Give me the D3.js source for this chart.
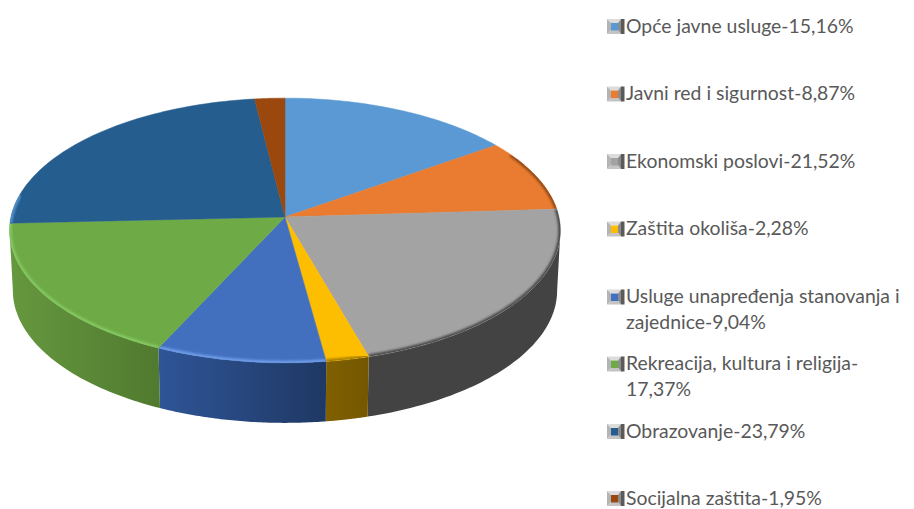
<!DOCTYPE html>
<html>
<head>
<meta charset="utf-8">
<script src="https://cdn.jsdelivr.net/npm/d3@7"></script>
<style>
  html, body { margin: 0; padding: 0; background: #fff; }
  svg { display: block; }
  text { font-family: Lato, sans-serif; font-size: 19.4px; fill: #595959; }
</style>
</head>
<body>
<div id="chart"></div>
<script>
const width = 914, height = 509;

// chart data
const categories = ["Opće javne usluge", "Javni red i sigurnost", "Ekonomski poslovi", "Zaštita okoliša",
  "Usluge unapređenja stanovanja i zajednice", "Rekreacija, kultura i religija", "Obrazovanje", "Socijalna zaštita"];
const values = [15.16, 8.87, 21.52, 2.28, 9.04, 17.37, 23.79, 1.95];
const colors = ["#5b99d4", "#e97c30", "#a3a3a3", "#fdbd00", "#4270bf", "#6eaa46", "#255d8f", "#9a480e"];
// lighter / darker side of the wall, left to right
const wallLeft = ["#3f6d96", "#a65822", "#434343", "#806000", "#2f5597", "#66983f", "#1f4465", "#6f320a"];
const wallRight = ["#3f6d96", "#a65822", "#434343", "#745700", "#1f3864", "#507a2f", "#1f4465", "#6f320a"];
const rimColors = ["#4a7fb0", "#8f4a1c", "#4a4a4a", "#a88000", "#6f9de8", "#83c962", "#4f93cc", "#7a3a10"];
// how the long legend rows wrap
const legendLines = [
  ["Opće javne usluge-15,16%"],
  ["Javni red i sigurnost-8,87%"],
  ["Ekonomski poslovi-21,52%"],
  ["Zaštita okoliša-2,28%"],
  ["Usluge unapređenja stanovanja i", "zajednice-9,04%"],
  ["Rekreacija, kultura i religija-", "17,37%"],
  ["Obrazovanje-23,79%"],
  ["Socijalna zaštita-1,95%"]
];
const legendY = [26, 93.5, 161, 228.5, 296.5, 363.5, 431, 498];

const svg = d3.select("#chart").append("svg")
  .attr("width", width)
  .attr("height", height)
  .attr("viewBox", [0, 0, width, height]);

const defs = svg.append("defs");
defs.append("filter").attr("id", "soft").append("feGaussianBlur").attr("stdDeviation", 1.2);

// pie is tilted, so the rim goes through a small perspective projection
const cx = 285, cy = 217, A = 274, B = 131, k = 0.102;
const project = (a, drop = 0, shrink = 1) => {
  const u = Math.sin(a), v = Math.cos(a), w = 1 + k * v;
  return [cx + shrink * A * u / w, cy - B * v / w + drop];
};
const depth = 60, bottomShrink = 0.988;

const line = d3.line();
const rim = (a0, a1, drop = 0, shrink = 1) => d3.range(0, 61)
  .map((i) => project(a0 + (a1 - a0) * i / 60, drop, shrink));

const arcs = d3.pie().sort(null)(values).map((d, i) => ({ ...d, i }));
const deg = Math.PI / 180;

// the wall shows between the widest points of the projected rim
const wallStart = Math.acos(-k), wallEnd = 2 * Math.PI - wallStart;
const wall = svg.append("g");
arcs.forEach((d) => {
  const a0 = Math.max(d.startAngle, wallStart), a1 = Math.min(d.endAngle, wallEnd);
  if (a1 <= a0) return;
  const top = rim(a0, a1);
  const bottom = rim(a0, a1, depth, bottomShrink).reverse();
  const xs = top.concat(bottom).map((p) => p[0]);
  const gradId = "wall" + d.i;
  const grad = defs.append("linearGradient").attr("id", gradId)
    .attr("gradientUnits", "userSpaceOnUse")
    .attr("x1", d3.min(xs)).attr("x2", d3.max(xs)).attr("y1", 0).attr("y2", 0);
  grad.append("stop").attr("offset", 0).attr("stop-color", wallLeft[d.i]);
  grad.append("stop").attr("offset", 1).attr("stop-color", wallRight[d.i]);
  wall.append("path")
    .attr("d", line(top.concat(bottom)) + "Z")
    .attr("fill", `url(#${gradId})`);
});

// top face
const face = svg.append("g");
arcs.forEach((d) => {
  const outline = [[cx, cy]].concat(rim(d.startAngle, d.endAngle));
  const clipId = "clip" + d.i;
  defs.append("clipPath").attr("id", clipId).append("path").attr("d", line(outline) + "Z");
  face.append("path")
    .attr("d", line(outline) + "Z")
    .attr("fill", colors[d.i])
    .attr("stroke", colors[d.i])
    .attr("stroke-width", 0.5);
  // bevel along the front edge only
  const b0 = Math.max(d.startAngle, 60 * deg), b1 = Math.min(d.endAngle, 280 * deg);
  if (b1 > b0) {
    face.append("g").attr("clip-path", `url(#${clipId})`)
      .append("path")
      .attr("d", line(rim(b0, b1)))
      .attr("fill", "none")
      .attr("stroke", rimColors[d.i])
      .attr("stroke-width", 4.5)
      .attr("filter", "url(#soft)");
  }
});

// legend: small bevelled squares like the office chart uses
const legend = svg.append("g");
legendLines.forEach((lines, i) => {
  const y = legendY[i];
  const g = legend.append("g").attr("transform", `translate(607,${y - 7})`);
  g.append("path").attr("d", "M0,0H14L11,4H4Z").attr("fill", "#dcdcdc");
  g.append("path").attr("d", "M0,0L4,4V11L0,15Z").attr("fill", "#b4b4b4");
  g.append("path").attr("d", "M0,15L4,11H11L14,15Z").attr("fill", "#c4c4c4");
  g.append("path").attr("d", "M14,0L11,4V11L14,15Z").attr("fill", "#8c8c8c");
  g.append("rect").attr("x", 14).attr("width", 3.5).attr("height", 15).attr("fill", "#5a5a5a");
  g.append("rect").attr("x", 4).attr("y", 4).attr("width", 7).attr("height", 7.5).attr("fill", colors[i]);
  lines.forEach((t, j) => {
    legend.append("text")
      .attr("x", 626)
      .attr("y", y + 6.5 + j * 26)
      .text(t);
  });
});
</script>
</body>
</html>
